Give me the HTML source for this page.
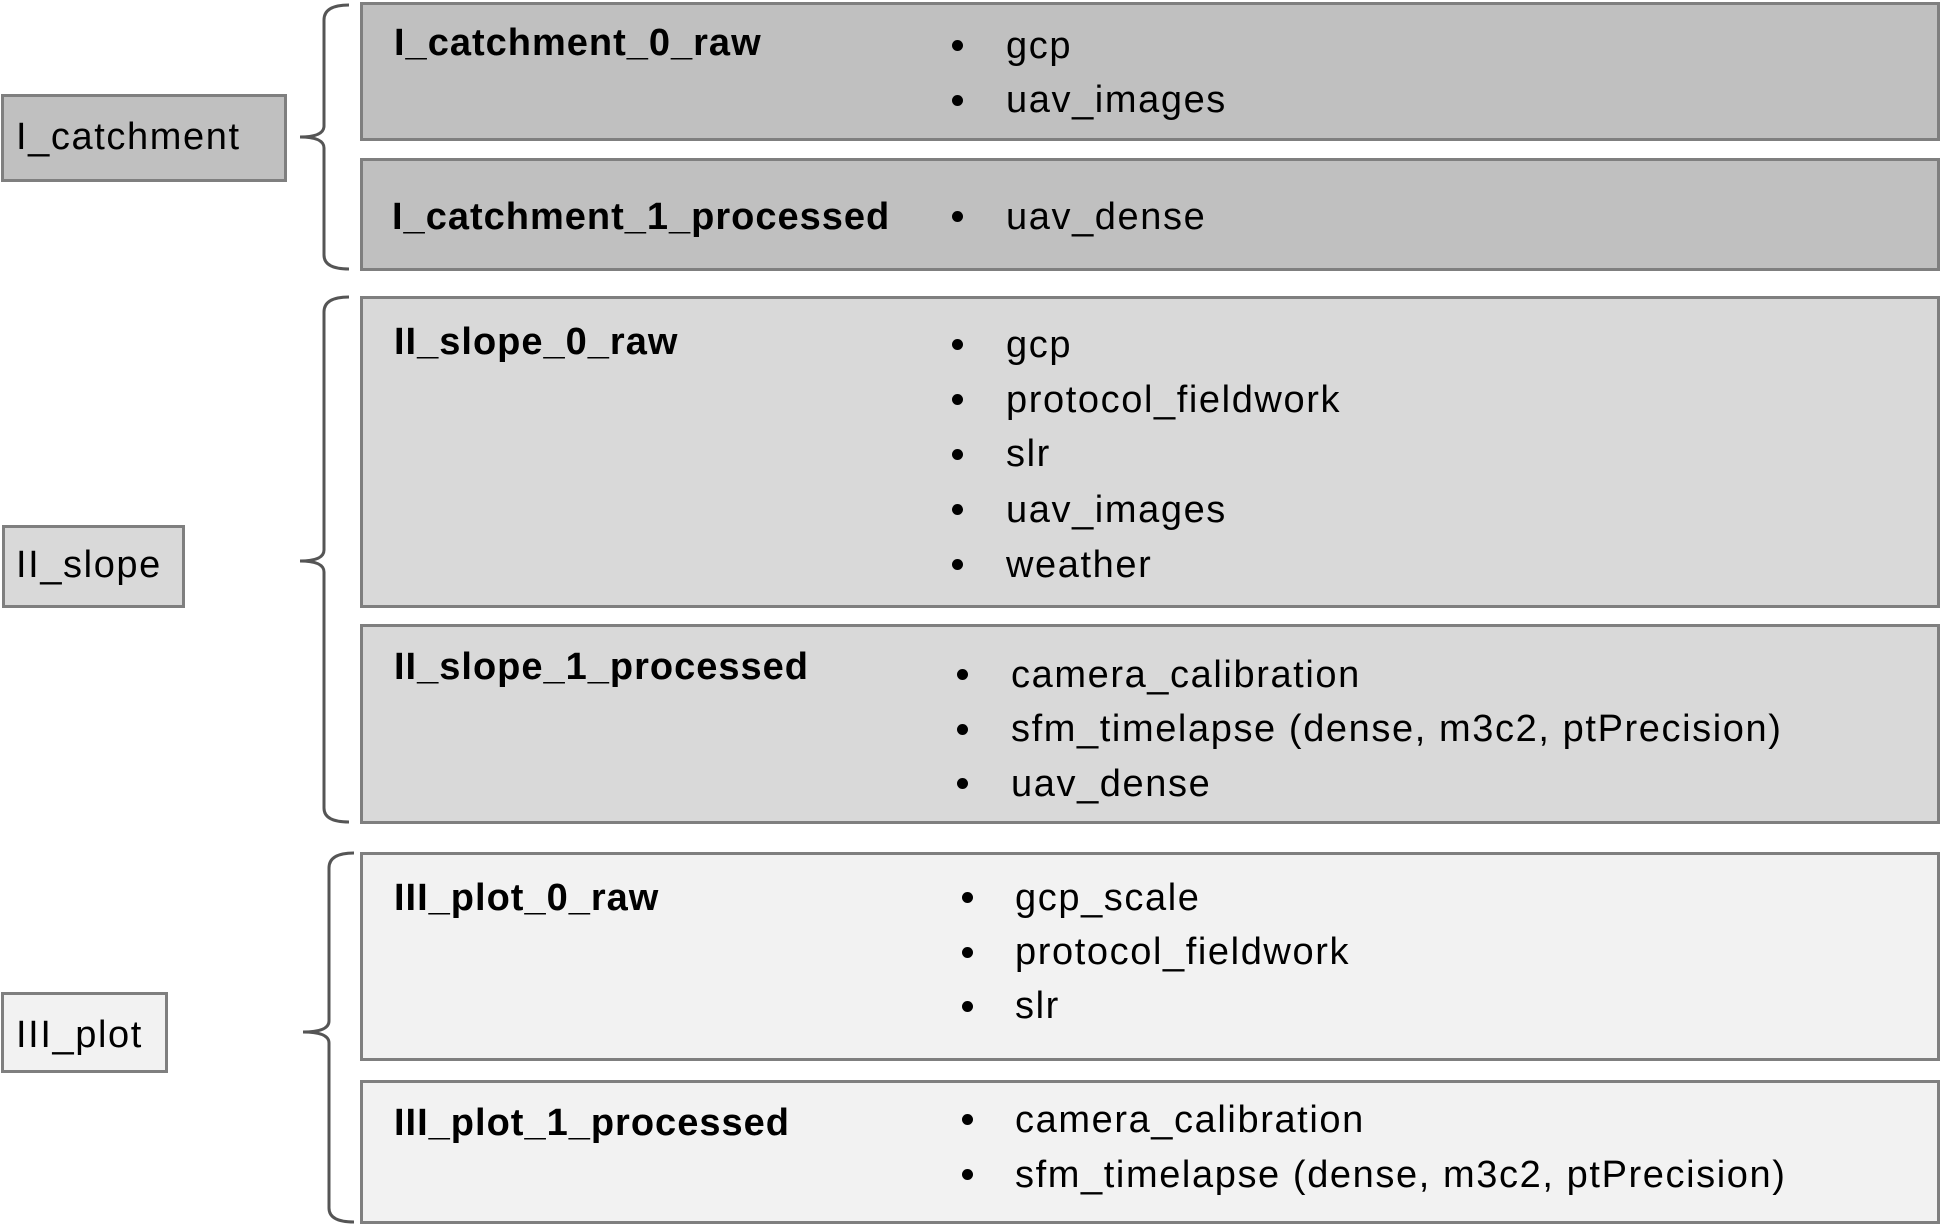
<!DOCTYPE html>
<html><head><meta charset="utf-8"><style>
body{margin:0;width:1941px;height:1226px;background:#fff;position:relative;overflow:hidden;font-family:"Liberation Sans",sans-serif;color:#000}
.b{position:absolute;box-sizing:border-box;border:3px solid #7f7f7f}
.t{position:absolute;line-height:54px;font-size:38px;letter-spacing:1.6px;white-space:nowrap}
.h{font-weight:bold;font-size:38px;letter-spacing:1px}
.d{position:absolute;width:11px;height:11px;border-radius:50%;background:#000}
</style></head><body>
<div class="b" style="left:1px;top:94px;width:286px;height:88px;background:#c0c0c0"></div>
<div class="t" style="left:16px;top:110px;">I_catchment</div>
<div class="b" style="left:2px;top:525px;width:183px;height:83px;background:#d9d9d9"></div>
<div class="t" style="left:16px;top:538px;">II_slope</div>
<div class="b" style="left:1px;top:992px;width:167px;height:81px;background:#f2f2f2"></div>
<div class="t" style="left:16px;top:1008px;">III_plot</div>

<svg style="position:absolute;left:0;top:0" width="1941" height="1226">
<g fill="none" stroke="#555" stroke-width="3">
<path d="M349 5 Q324 5 324 20 L324 126 Q324 137 300 137 Q324 137 324 148 L324 255 Q324 269 349 269"/>
<path d="M349 297 Q324 297 324 312 L324 550 Q324 561 300 561 Q324 561 324 572 L324 808 Q324 822 349 822"/>
<path d="M354 853 Q329 853 329 868 L329 1021 Q329 1032 303 1032 Q329 1032 329 1043 L329 1208 Q329 1222 354 1222"/>
</g></svg>

<div class="b" style="left:360px;top:2px;width:1580px;height:139px;background:#c0c0c0"></div>
<div class="b" style="left:360px;top:158px;width:1580px;height:113px;background:#c0c0c0"></div>
<div class="b" style="left:360px;top:296px;width:1580px;height:312px;background:#d9d9d9"></div>
<div class="b" style="left:360px;top:624px;width:1580px;height:200px;background:#d9d9d9"></div>
<div class="b" style="left:360px;top:852px;width:1580px;height:209px;background:#f2f2f2"></div>
<div class="b" style="left:360px;top:1080px;width:1580px;height:144px;background:#f2f2f2"></div>

<div class="t h" style="left:394px;top:16px">I_catchment_0_raw</div>
<div class="t h" style="left:392px;top:190px">I_catchment_1_processed</div>
<div class="t h" style="left:394px;top:315px">II_slope_0_raw</div>
<div class="t h" style="left:394px;top:640px">II_slope_1_processed</div>
<div class="t h" style="left:394px;top:871px">III_plot_0_raw</div>
<div class="t h" style="left:394px;top:1096px">III_plot_1_processed</div>

<div class="d" style="left:952px;top:40px"></div><div class="t" style="left:1006px;top:19px">gcp</div>
<div class="d" style="left:952px;top:95px"></div><div class="t" style="left:1006px;top:73px">uav_images</div>
<div class="d" style="left:952px;top:211px"></div><div class="t" style="left:1006px;top:190px">uav_dense</div>

<div class="d" style="left:952px;top:339px"></div><div class="t" style="left:1006px;top:318px">gcp</div>
<div class="d" style="left:952px;top:394px"></div><div class="t" style="left:1006px;top:373px">protocol_fieldwork</div>
<div class="d" style="left:952px;top:449px"></div><div class="t" style="left:1006px;top:427px">slr</div>
<div class="d" style="left:952px;top:504px"></div><div class="t" style="left:1006px;top:483px">uav_images</div>
<div class="d" style="left:952px;top:559px"></div><div class="t" style="left:1006px;top:538px">weather</div>

<div class="d" style="left:957px;top:669px"></div><div class="t" style="left:1011px;top:648px">camera_calibration</div>
<div class="d" style="left:957px;top:724px"></div><div class="t" style="left:1011px;top:702px">sfm_timelapse (dense, m3c2, ptPrecision)</div>
<div class="d" style="left:957px;top:778px"></div><div class="t" style="left:1011px;top:757px">uav_dense</div>

<div class="d" style="left:962px;top:892px"></div><div class="t" style="left:1015px;top:871px">gcp_scale</div>
<div class="d" style="left:962px;top:947px"></div><div class="t" style="left:1015px;top:925px">protocol_fieldwork</div>
<div class="d" style="left:962px;top:1001px"></div><div class="t" style="left:1015px;top:979px">slr</div>

<div class="d" style="left:962px;top:1114px"></div><div class="t" style="left:1015px;top:1093px">camera_calibration</div>
<div class="d" style="left:962px;top:1169px"></div><div class="t" style="left:1015px;top:1148px">sfm_timelapse (dense, m3c2, ptPrecision)</div>
</body></html>
